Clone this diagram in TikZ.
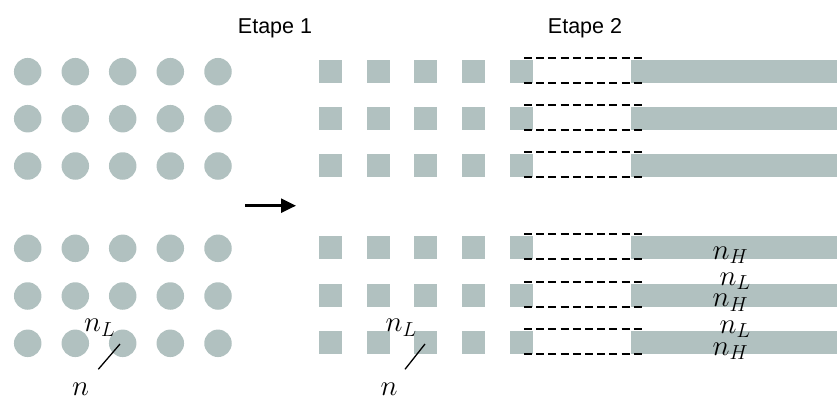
\RequirePackage{fix-cm}
\documentclass[tikz,border=0pt]{standalone}
\usepackage{fontspec}
\setsansfont{Liberation Sans}
\usetikzlibrary{arrows.meta}
\definecolor{gr}{RGB}{177,193,192}
\begin{document}
\begin{tikzpicture}[x=1pt,y=-1pt,
  dot/.style={circle,fill=gr,inner sep=0pt,minimum size=27.5pt},
  sq/.style={rectangle,fill=gr,inner sep=0pt,minimum width=23pt,minimum height=23pt},
  bar/.style={fill=gr},
  dline/.style={line width=1.8pt,dash pattern=on 8pt off 4.2pt},
  title/.style={font=\sffamily\fontsize{21.5}{24}\selectfont,inner sep=0pt},
  lab/.style={font=\fontsize{29}{32}\selectfont,inner sep=0pt},
  lead/.style={line width=1.3pt}]
\useasboundingbox (0,0) rectangle (837,399);
% titles
\node[title,anchor=base] (t1) at (275,33) {Etape 1};
\node[title,anchor=base] (t2) at (585,33) {Etape 2};
% circles
\foreach \r/\y in {1/71.7,2/118.7,3/166,4/248.3,5/296,6/343.3}{
  \foreach \c/\x in {1/27.7,2/75.3,3/122.7,4/170.3,5/218}{
    \node[dot] (c\r\c) at (\x,\y) {};
  }
}
% squares and bars
\foreach \r/\y in {1/71.3,2/118.3,3/165.3,4/247.3,5/295.3,6/342.3}{
  \foreach \c/\x in {1/330.5,2/378.5,3/425.5,4/473.5,5/521.5}{
    \node[sq] (s\r\c) at (\x,\y) {};
  }
  \fill[bar] (631,\y-11.5) rectangle (837,\y+11.5);
  \draw[dline] (524,\y-13) -- (643,\y-13);
  \draw[dline] (524,\y+12) -- (643,\y+12);
}
% arrow
\coordinate (a1) at (245,205.7);
\coordinate (a2) at (296,205.7);
\draw[line width=2.5pt,-{Triangle[length=15pt,width=14pt]}] (a1) -- (a2);
% left labels
\node[lab,anchor=base west] (nL1) at (84,331.7) {$n_L$};
\node[lab,anchor=base west] (n1) at (72,395) {$n$};
\coordinate (l1a) at (120,344);
\coordinate (l1b) at (98.3,369.3);
\draw[lead] (l1a) -- (l1b);
% middle labels
\node[lab,anchor=base west] (nL2) at (385.5,331.7) {$n_L$};
\node[lab,anchor=base west] (n2) at (380.5,395) {$n$};
\coordinate (l2a) at (425,344);
\coordinate (l2b) at (405,369.3);
\draw[lead] (l2a) -- (l2b);
% right labels
\node[lab,anchor=base west] (nH1) at (712.5,259) {$n_H$};
\node[lab,anchor=base west] (nL3) at (719.5,285) {$n_L$};
\node[lab,anchor=base west] (nH2) at (712.5,306.7) {$n_H$};
\node[lab,anchor=base west] (nL4) at (719.5,333.3) {$n_L$};
\node[lab,anchor=base west] (nH3) at (712.5,355) {$n_H$};
\end{tikzpicture}
\end{document}
